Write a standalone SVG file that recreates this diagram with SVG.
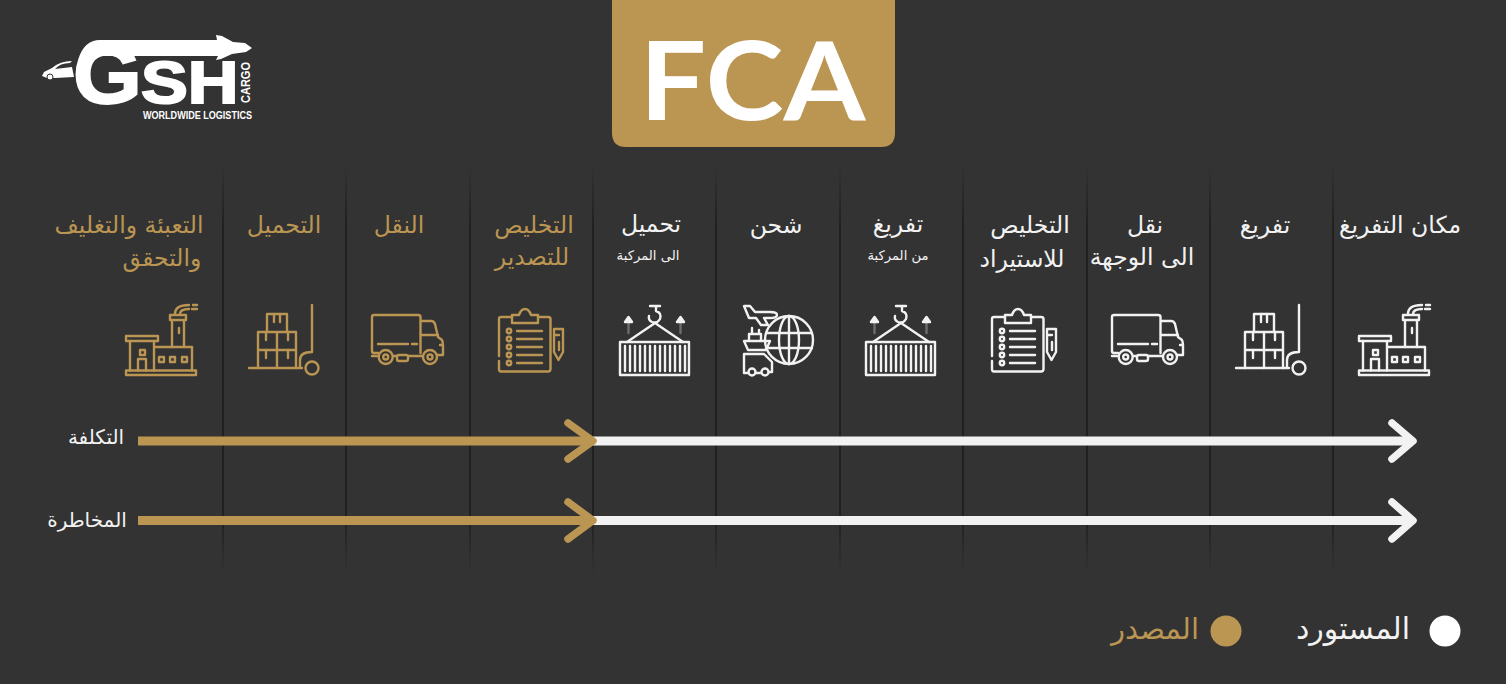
<svg xmlns="http://www.w3.org/2000/svg" width="1506" height="684" viewBox="0 0 1506 684">
<style>
.ar{font-family:"DejaVu Sans","Noto Sans",sans-serif;text-anchor:middle;direction:rtl}
.lab{font-size:23.500px}
.sub{font-size:13.200px}
.gold{color:#bb9552;fill:#bb9552}
.white{color:#f2f2f2;fill:#f2f2f2}
.ic{fill:none;stroke:currentColor;stroke-width:2.400;stroke-linecap:round;stroke-linejoin:round}
.shaft{fill:none;stroke-width:9}
.head{fill:none;stroke-width:7.500;stroke-linecap:round;stroke-linejoin:round}
.logo{font-family:"Liberation Sans",Arial,sans-serif;font-weight:700;fill:#fff}
</style>
<defs>
<linearGradient id="div" x1="0" y1="0" x2="0" y2="1">
<stop offset="0" stop-color="#202020" stop-opacity="0"/>
<stop offset=".15" stop-color="#202020"/>
<stop offset=".85" stop-color="#202020"/>
<stop offset="1" stop-color="#202020" stop-opacity="0"/>
</linearGradient>
<g id="factory">
<rect x="126" y="370.500" width="70" height="4.500"/>
<rect x="126" y="336" width="32" height="5"/>
<path d="M130 341V370.500M154 341V370.500M154 347H192V370.500"/>
<rect x="140" y="350" width="5" height="5"/>
<path d="M138 370.500V359H146V370.500"/>
<rect x="159" y="357" width="5" height="5"/><rect x="170" y="357" width="5" height="5"/><rect x="182" y="357" width="5" height="5"/>
<rect x="170" y="315" width="16" height="5"/>
<path d="M172 320V347M184 320V347M179 328V333"/>
<path d="M175 314Q175 305 189 305M180 314Q180 309 189 309M193 305H197M192 309H197"/>
</g>
<g id="jack">
<path d="M249 368H302M312 305V352Q300 352 300 360V368"/>
<circle cx="312" cy="368" r="6.500"/>
<path d="M267 332V314H287V332M258 368V332H296V368M258 350H296M277 332V368"/>
<path d="M274 314V322M280 314V322M266 332V340M288 332V340M266 350V358M288 350V358"/>
</g>
<g id="truck">
<path d="M378 353H374Q372 353 372 351V317Q372 315 374 315H418Q420.500 315 420.500 317V353M420.500 321H431Q434 321 435 324L438 337L442 340Q443 342 443 346V355H437"/>
<path d="M421 335H438M378 344H408M412 344H417M443 345H440"/>
<circle cx="385.700" cy="357" r="7"/><circle cx="385.700" cy="357" r="2.500"/>
<circle cx="430" cy="357" r="7"/><circle cx="430" cy="357" r="2.500"/>
<rect x="397" y="355" width="11" height="6" rx="2"/>
<path d="M372 356H377M394 356H397M408 356H422"/>
</g>
<g id="clip">
<path d="M512 317H501Q499 317 499 319V356M499 361V369Q499 371.500 501 371.500H548Q550.500 371.500 550.500 369V319Q550.500 317 548 317H538"/>
<path d="M512 323V315H519Q521 309 525 309Q529 309 531 315H538V323Z"/>
<circle cx="509" cy="331" r="2.200"/><circle cx="509" cy="339" r="2.200"/><circle cx="509" cy="347" r="2.200"/><circle cx="509" cy="355" r="2.200"/><circle cx="509" cy="363" r="2.200"/>
<path d="M517 331H542M517 339H542M517 347H542M517 355H542M517 363H542"/>
<path d="M554 329H563V352L558.500 360L554 352ZM554 335H559M559 342V350"/>
</g>
<g id="container">
<rect x="620" y="342" width="69" height="33"/>
<path d="M627 342L655 323L683 342"/>
<path d="M650 306H660M656 306V311Q662 313 660 319Q657 324 652 322Q648 320 649 316"/>
<path d="M625 322L628.500 317L632 322Z M677 322L680.500 317L684 322Z" fill="currentColor"/>
<path d="M628.500 323V333M680.500 323V333" stroke-opacity=".3"/>
<path d="M625 346V371M630 346V371M635 346V371M640 346V371M645 346V371M650 346V371M655 346V371M660 346V371M665 346V371M670 346V371M675 346V371M680 346V371M685 346V371"/>
</g>
</defs>
<rect width="1506" height="684" fill="#333333"/>
<g id="dividers" fill="url(#div)">
<rect x="222" y="165" width="2" height="410"/><rect x="345" y="165" width="2" height="410"/><rect x="469" y="165" width="2" height="410"/><rect x="592" y="165" width="2" height="410"/><rect x="715" y="165" width="2" height="410"/><rect x="839" y="165" width="2" height="410"/><rect x="962" y="165" width="2" height="410"/><rect x="1086" y="165" width="2" height="410"/><rect x="1209" y="165" width="2" height="410"/><rect x="1332" y="165" width="2" height="410"/>
</g>
<g id="logo">
<path d="M78 60Q84 40 100 40H217L216 35L222 36L233 42L245 43L252 48L246 52L232 54L221 59L216 60L218 56H100Q92 56 88 63Z" fill="#fff"/>
<path d="M42 76L44 72L52 68Q60 61 72 61L70 63Q60 63 55 69L72 67L74 77L55 78H47Z" fill="#fff"/>
<circle cx="50" cy="77" r="3" fill="#fff" stroke="#333" stroke-width="1"/>
<text class="logo" transform="translate(73 103) scale(1.03 .98)" font-size="86" stroke="#fff" stroke-width="2">G</text>
<text class="logo" transform="translate(141 103) scale(1.19 1)" font-size="59" stroke="#fff" stroke-width="2">SH</text>
<text class="logo" transform="translate(250 103) rotate(-90)" font-size="12" textLength="41" lengthAdjust="spacingAndGlyphs">CARGO</text>
<text class="logo" x="143" y="119" font-size="11.500" textLength="109" lengthAdjust="spacingAndGlyphs">WORLDWIDE LOGISTICS</text>
</g>
<g id="title">
<path d="M612 0H895V133Q895 147 881 147H626Q612 147 612 133Z" fill="#bb9552"/>
<text x="752.500" y="120" font-family="Lato,sans-serif" font-weight="700" font-size="110" fill="#fff" text-anchor="middle" textLength="226" lengthAdjust="spacingAndGlyphs">FCA</text>
</g>
<g id="step-1" class="gold"><text class="ar lab" x="129" y="233">التعبئة والتغليف</text><text class="ar lab" x="162" y="266">والتحقق</text><use href="#factory" class="ic"/></g>
<g id="step-2" class="gold"><text class="ar lab" x="284" y="233">التحميل</text><use href="#jack" class="ic"/></g>
<g id="step-3" class="gold"><text class="ar lab" x="399" y="233">النقل</text><use href="#truck" class="ic"/></g>
<g id="step-4" class="gold"><text class="ar lab" x="534" y="233">التخليص</text><text class="ar lab" x="532" y="265">للتصدير</text><use href="#clip" class="ic"/></g>
<g id="step-5" class="white"><text class="ar lab" x="651" y="232">تحميل</text><text class="ar sub" x="648" y="260">الى المركبة</text><use href="#container" class="ic"/></g>
<g id="step-6" class="white"><text class="ar lab" x="776" y="233">شحن</text>
<g class="ic">
<circle cx="789" cy="340" r="24"/><ellipse cx="789" cy="340" rx="10" ry="24"/><path d="M789 316V364M766 333H812M766 348H812"/>
<path d="M744 306H750L755 312H770Q777 312 777 315Q777 318 770 318H764L768 325H761L756 318H749Z"/>
<path d="M744 341H770L766 350H748ZM749 341V334H761V341M752 334V328M759 334V330"/>
<path d="M748 373H744V354H764L772 362V372H769M756 373H761"/>
<circle cx="752" cy="372" r="3.500"/><circle cx="765" cy="372" r="3.500"/>
</g></g>
<g id="step-7" class="white"><text class="ar lab" x="898" y="232">تفريغ</text><text class="ar sub" x="898" y="260">من المركبة</text><use href="#container" class="ic" x="246"/></g>
<g id="step-8" class="white"><text class="ar lab" x="1030" y="233">التخليص</text><text class="ar lab" x="1022" y="267">للاستيراد</text><use href="#clip" class="ic" x="493"/></g>
<g id="step-9" class="white"><text class="ar lab" x="1145" y="233">نقل</text><text class="ar lab" x="1142" y="265">الى الوجهة</text><use href="#truck" class="ic" x="740"/></g>
<g id="step-10" class="white"><text class="ar lab" x="1265" y="233">تفريغ</text><use href="#jack" class="ic" x="987"/></g>
<g id="step-11" class="white"><text class="ar lab" x="1400" y="233">مكان التفريغ</text><use href="#factory" class="ic" x="1233"/></g>
<g id="connectors">
<path class="shaft" stroke="#f2f2f2" d="M593 441H1410"/><path class="head" stroke="#f2f2f2" d="M1392 423L1413 441L1392 459"/>
<path class="shaft" stroke="#bb9552" d="M138 441H593"/><path class="head" stroke="#bb9552" d="M568 423L593 441L568 459"/>
<path class="shaft" stroke="#f2f2f2" d="M593 520.500H1410"/><path class="head" stroke="#f2f2f2" d="M1392 502L1413 520.500L1392 539"/>
<path class="shaft" stroke="#bb9552" d="M138 520.500H593"/><path class="head" stroke="#bb9552" d="M568 502L593 520.500L568 539"/>
</g>
<g id="row-cost" class="white"><text class="ar" font-size="20" x="96" y="444">التكلفة</text></g>
<g id="row-risk" class="white"><text class="ar" font-size="20" x="87" y="527">المخاطرة</text></g>
<g id="legend-seller" class="gold"><text class="ar" font-size="29" x="1155" y="639">المصدر</text><circle cx="1226" cy="631" r="15.500"/></g>
<g id="legend-buyer" class="white"><text class="ar" font-size="30" x="1353" y="639">المستورد</text><circle cx="1445" cy="631" r="15.500" fill="#fff"/></g>
</svg>
